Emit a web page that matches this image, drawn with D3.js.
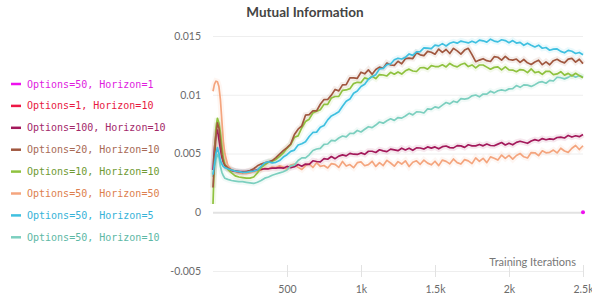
<!DOCTYPE html>
<html>
<head>
<meta charset="utf-8">
<script src="https://cdn.jsdelivr.net/npm/d3@7"></script>
<style>
	body { margin: 0; background: #fff; }
	svg { display: block; }
</style>
</head>
<body>
<div id="chart"></div>
<script>
// iterations: fine steps at the start, then every 25
var iters = [0, 10, 20, 30, 40, 50, 60, 70, 80].concat(d3.range(100, 2501, 25));

// values, in units of 1e-3
var cyan50h5 = [3.2, 4.1, 5.0, 5.5, 5.0, 4.4, 4.1, 3.9, 3.8,
	3.7, 3.6, 3.5, 3.45, 3.4, 3.4, 3.45, 3.5, 3.6, 3.9, 4.2, 4.3,
	4.2, 4.25, 4.4, 4.7, 4.9, 5.18, 5.29, 5.72, 5.83, 6.0, 6.45, 6.79,
	6.82, 7.23, 7.38, 7.86, 8.2, 8.36, 8.56, 9.02, 9.44, 9.63, 10.13, 10.32,
	10.7, 10.89, 11.32, 11.54, 11.71, 12.2, 12.25, 12.56, 12.62, 12.98, 13.11, 13.04,
	13.18, 13.47, 13.35, 13.65, 13.67, 13.99, 13.97, 13.93, 14.22, 14.16, 14.35, 14.15,
	14.38, 14.49, 14.39, 14.57, 14.49, 14.41, 14.56, 14.42, 14.65, 14.59, 14.48, 14.73,
	14.57, 14.5, 14.68, 14.61, 14.43, 14.61, 14.4, 14.46, 14.21, 14.39, 14.22, 14.07,
	14.22, 13.96, 14.02, 13.79, 13.88, 13.9, 13.69, 13.57, 13.78, 13.7, 13.51, 13.6,
	13.4];

var brown20h10 = [2.1, 4.5, 6.5, 7.6, 7.2, 6.0, 4.9, 4.3, 4.0,
	3.8, 3.6, 3.5, 3.45, 3.4, 3.45, 3.55, 3.7, 3.95, 4.1, 4.2, 4.3,
	4.4, 4.65, 4.95, 5.25, 5.5, 5.81, 6.62, 7.07, 7.35, 8.26, 8.31, 8.62,
	8.63, 9.19, 9.59, 9.6, 9.97, 10.45, 10.33, 10.84, 10.86, 11.44, 11.43, 11.4,
	11.92, 11.78, 12.12, 11.74, 12.15, 12.35, 12.25, 12.7, 12.53, 12.5, 12.85, 12.63,
	13.07, 13.12, 13.08, 13.57, 13.4, 13.33, 13.69, 13.62, 13.45, 13.89, 13.61, 13.85,
	13.51, 13.95, 13.73, 13.46, 13.8, 13.95, 13.42, 12.81, 12.95, 13.07, 12.9, 12.83,
	13.24, 13.19, 12.95, 13.27, 13.0, 12.95, 13.04, 12.75, 13.0, 12.72, 12.58, 12.79,
	12.94, 12.56, 12.8, 12.55, 12.9, 13.02, 12.83, 12.71, 13.03, 13.1, 12.78, 13.02,
	12.65];

var green10h10 = [0.7, 4.6, 7.2, 8.0, 7.6, 6.8, 5.6, 4.6, 4.1,
	3.65, 3.35, 3.1, 3.0, 2.95, 2.9, 2.9, 3.0, 3.35, 3.8, 4.05, 4.25,
	4.35, 4.5, 4.75, 5.05, 5.44, 5.75, 6.38, 6.5, 7.19, 7.72, 7.92, 8.46,
	8.59, 8.73, 9.18, 9.18, 9.73, 9.85, 9.86, 10.37, 10.41, 10.52, 10.95, 11.06,
	11.04, 11.44, 11.33, 11.58, 11.37, 11.72, 11.68, 11.6, 11.91, 11.75, 11.94, 11.76,
	12.04, 12.18, 12.02, 11.98, 12.3, 12.32, 12.18, 12.48, 12.4, 12.4, 12.55, 12.37,
	12.66, 12.47, 12.37, 12.57, 12.68, 12.4, 12.54, 12.29, 12.53, 12.53, 12.35, 12.17,
	12.33, 12.37, 12.11, 12.37, 12.11, 12.1, 11.96, 12.14, 12.1, 11.88, 12.2, 11.88,
	11.96, 11.73, 12.0, 11.99, 11.72, 11.77, 11.96, 11.67, 11.82, 11.6, 11.83, 11.63,
	11.45];

var teal50h10 = [3.0, 3.8, 4.5, 4.9, 4.7, 3.9, 3.4, 3.1, 2.9,
	2.8, 2.7, 2.65, 2.6, 2.6, 2.55, 2.5, 2.45, 2.55, 2.7, 2.9, 3.0,
	3.15, 3.25, 3.35, 3.45, 3.6, 3.95, 4.01, 4.4, 4.63, 4.62, 4.89, 5.25,
	5.38, 5.44, 5.77, 5.81, 6.12, 6.07, 6.32, 6.49, 6.41, 6.71, 6.7, 6.96,
	6.83, 7.06, 7.28, 7.2, 7.42, 7.68, 7.58, 7.79, 7.95, 7.82, 8.06, 8.01,
	8.19, 8.42, 8.29, 8.54, 8.53, 8.45, 8.8, 8.76, 8.97, 8.88, 9.12, 9.34,
	9.22, 9.45, 9.35, 9.67, 9.63, 9.69, 9.91, 9.98, 9.82, 10.06, 10.05, 10.3,
	10.16, 10.34, 10.42, 10.34, 10.5, 10.52, 10.78, 10.63, 10.84, 10.82, 10.71, 10.86,
	11.05, 11.11, 10.98, 11.23, 11.17, 11.49, 11.45, 11.35, 11.48, 11.67, 11.49, 11.63,
	11.5];

var maroon100h10 = [3.6, 5.5, 6.6, 7.0, 6.2, 5.4, 4.7, 4.3, 4.0,
	3.7, 3.55, 3.5, 3.45, 3.45, 3.45, 3.5, 3.55, 3.6, 3.65, 3.7, 3.7,
	3.75, 3.75, 3.8, 3.75, 3.9, 3.8, 3.88, 4.06, 3.91, 4.1, 4.08, 4.38,
	4.32, 4.29, 4.56, 4.51, 4.74, 4.56, 4.78, 4.88, 4.8, 5.01, 4.94, 4.92,
	5.05, 4.93, 5.19, 5.19, 5.09, 5.32, 5.22, 5.16, 5.37, 5.31, 5.24, 5.45,
	5.3, 5.45, 5.27, 5.48, 5.47, 5.38, 5.56, 5.46, 5.56, 5.4, 5.58, 5.64,
	5.5, 5.48, 5.67, 5.65, 5.52, 5.74, 5.65, 5.65, 5.77, 5.65, 5.81, 5.68,
	5.66, 5.8, 5.93, 5.73, 5.88, 5.74, 5.95, 6.04, 5.96, 5.87, 6.07, 6.18,
	6.09, 6.27, 6.17, 6.25, 6.2, 6.36, 6.39, 6.32, 6.54, 6.4, 6.51, 6.43,
	6.62];

var salmon50h50 = [10.3, 10.9, 11.15, 11.1, 10.7, 9.6, 7.8, 6.0, 5.0,
	4.0, 3.6, 3.45, 3.35, 3.3, 3.3, 3.35, 3.45, 3.5, 3.6, 3.75, 3.7,
	3.85, 3.8, 3.95, 3.85, 3.66, 4.02, 4.1, 3.82, 3.64, 3.97, 4.12, 3.81,
	4.22, 3.91, 3.98, 3.77, 4.14, 4.08, 3.82, 4.32, 3.93, 4.06, 3.79, 4.22,
	4.29, 3.96, 4.05, 4.34, 3.9, 4.22, 3.97, 4.42, 4.19, 3.92, 4.31, 4.1,
	4.38, 3.89, 4.26, 4.38, 4.08, 4.44, 4.18, 4.04, 4.34, 3.97, 4.44, 4.33,
	4.12, 4.53, 4.22, 4.1, 4.48, 4.37, 4.14, 4.63, 4.34, 4.59, 4.22, 4.71,
	4.6, 4.44, 4.87, 4.59, 4.84, 4.52, 4.83, 5.0, 4.72, 4.62, 5.08, 5.06,
	4.82, 5.23, 5.06, 5.1, 5.29, 5.05, 5.45, 5.21, 5.1, 5.45, 5.68, 5.34,
	5.66];

// Options=50, Horizon=1 only shows as its last point
var magenta50h1 = [0];
var magentaIters = [2500];

var legendNames = ["Options=50, Horizon=1", "Options=1, Horizon=10", "Options=100, Horizon=10",
	"Options=20, Horizon=10", "Options=10, Horizon=10", "Options=50, Horizon=50",
	"Options=50, Horizon=5", "Options=50, Horizon=10"];
var lineColors = ["#ee11ee", "#ee1746", "#a3195b", "#a0573f", "#8fc23f", "#f4a57e", "#3fc0e0", "#7ccfbf"];
var textColors = ["#e01ce0", "#e8193f", "#a3286a", "#a86a55", "#6f9a33", "#dd7f4e", "#36b3d8", "#5db8a5"];

var yTicks = [-5, 0, 5, 10, 15];
var yTickLabels = ["-0.005", "0", "0.005", "0.01", "0.015"];
var xTicks = [500, 1000, 1500, 2000, 2500];
var xTickLabels = ["500", "1k", "1.5k", "2k", "2.5k"];

var width = 592, height = 296;
var margin = {top: 36, right: 9, bottom: 25, left: 213};

var svg = d3.select("#chart").append("svg")
	.attr("width", width)
	.attr("height", height)
	.style("font-family", "Lato, 'Noto Sans', sans-serif");

var x = d3.scaleLinear().domain([0, 2500]).range([margin.left, width - margin.right]);
var y = d3.scaleLinear().domain([-5, 15]).range([height - margin.bottom, margin.top]);

// title
svg.append("text")
	.attr("x", 305)
	.attr("y", 17)
	.attr("text-anchor", "middle")
	.attr("font-size", 13.5)
	.attr("font-weight", "bold")
	.attr("fill", "#444")
	.text("Mutual Information");

// horizontal grid + y labels
var yAxis = d3.axisLeft(y)
	.tickValues(yTicks)
	.tickSize(-(width - margin.right - margin.left))
	.tickPadding(12)
	.tickFormat(function(d, i) { return yTickLabels[i]; });

var gy = svg.append("g")
	.attr("transform", "translate(" + margin.left + ",0)")
	.call(yAxis);
gy.select(".domain").remove();
gy.selectAll(".tick line")
	.attr("stroke", function(d) { return d === 0 ? "#e2e2e2" : "#eeeeee"; })
	.attr("stroke-width", function(d) { return d === 0 ? 2 : 1; });
gy.selectAll(".tick text")
	.attr("fill", "#6b6b6b")
	.attr("font-size", 10.5)
	.style("font-family", "Lato, sans-serif");

// x ticks sit across the bottom grid line
var xAxis = d3.axisBottom(x)
	.tickValues(xTicks)
	.tickSize(6)
	.tickPadding(9)
	.tickFormat(function(d, i) { return xTickLabels[i]; });

var gx = svg.append("g")
	.attr("transform", "translate(0," + y(-5) + ")")
	.call(xAxis);
gx.select(".domain").remove();
gx.selectAll(".tick line")
	.attr("y1", -6)
	.attr("stroke", "#e2e2e2");
gx.selectAll(".tick text")
	.attr("fill", "#6b6b6b")
	.attr("font-size", 10.5)
	.style("font-family", "Lato, sans-serif");

svg.append("text")
	.attr("x", 576)
	.attr("y", 266)
	.attr("text-anchor", "end")
	.attr("font-size", 11)
	.attr("fill", "#777")
	.text("Training Iterations");

// series, drawn back to front
var series = [
	{values: salmon50h50, color: lineColors[5]},
	{values: maroon100h10, color: lineColors[2]},
	{values: teal50h10, color: lineColors[7]},
	{values: green10h10, color: lineColors[4]},
	{values: brown20h10, color: lineColors[3]},
	{values: cyan50h5, color: lineColors[6]}
];

var line = d3.line()
	.x(function(d, i) { return x(iters[i]); })
	.y(function(d) { return y(d); });

var plot = svg.append("g");

// faint spread behind each run
plot.selectAll(".band")
	.data(series)
	.enter().append("path")
	.attr("class", "band")
	.attr("fill", "none")
	.attr("stroke", function(d) { return d.color; })
	.attr("stroke-width", 6)
	.attr("stroke-opacity", 0.1)
	.attr("d", function(d) { return line(d.values); });

plot.selectAll(".run")
	.data(series)
	.enter().append("path")
	.attr("class", "run")
	.attr("fill", "none")
	.attr("stroke", function(d) { return d.color; })
	.attr("stroke-width", 1.7)
	.attr("stroke-linejoin", "round")
	.attr("d", function(d) { return line(d.values); });

plot.selectAll(".lastpt")
	.data(magenta50h1)
	.enter().append("circle")
	.attr("class", "lastpt")
	.attr("cx", function(d, i) { return x(magentaIters[i]); })
	.attr("cy", function(d) { return y(d); })
	.attr("r", 2)
	.attr("fill", lineColors[0]);

// legend
var legend = svg.append("g")
	.selectAll("g")
	.data(legendNames)
	.enter().append("g")
	.attr("transform", function(d, i) { return "translate(11," + (84 + i * 21.9) + ")"; });

legend.append("line")
	.attr("x1", 0).attr("x2", 10)
	.attr("stroke", function(d, i) { return lineColors[i]; })
	.attr("stroke-width", 2.5);

legend.append("text")
	.attr("x", 16)
	.attr("dy", "0.35em")
	.attr("font-size", 10)
	.style("font-family", "'DejaVu Sans Mono', monospace")
	.attr("fill", function(d, i) { return textColors[i]; })
	.text(function(d) { return d; });
</script>
</body>
</html>
